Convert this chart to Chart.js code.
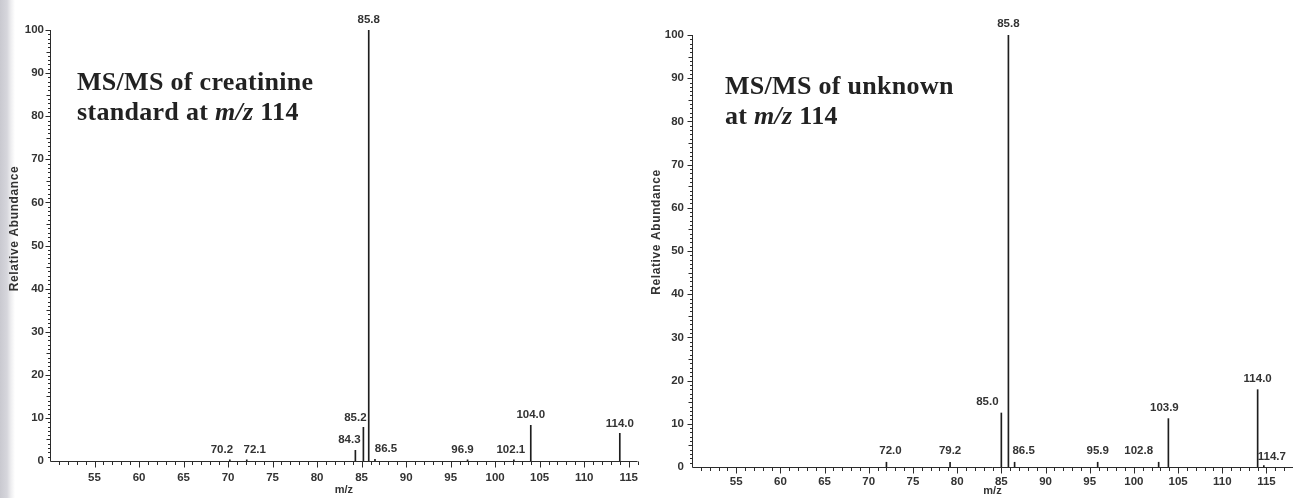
<!DOCTYPE html>
<html>
<head>
<meta charset="utf-8">
<script src="https://cdn.jsdelivr.net/npm/chart.js@4.4.1/dist/chart.umd.min.js"></script>
<style>
  html, body { margin: 0; padding: 0; background: #fff; }
  body { width: 1293px; height: 498px; position: relative; overflow: hidden; }
  canvas { position: absolute; top: 0; }
  #specLeft { left: 0; }
  #specRight { left: 648px; }
  .edge { position: absolute; left: 0; top: 0; width: 16px; height: 498px;
          background: linear-gradient(to right, #c9c9d0 0px, #d6d6dc 7px, #eeeef0 11px, #ffffff 15px); }
  .note { position: absolute; font-family: "Liberation Serif", "Times New Roman", serif;
          font-weight: bold; font-size: 26px; line-height: 30px; letter-spacing: 0.3px; color: #222; white-space: nowrap; }
  .note i { font-style: italic; }
  #noteLeft { left: 77px; top: 67px; }
  #noteRight { left: 725px; top: 71px; }
</style>
</head>
<body>
<div class="edge"></div>
<canvas id="specLeft" width="648" height="498"></canvas>
<canvas id="specRight" width="645" height="498"></canvas>
<div class="note" id="noteLeft">MS/MS of creatinine<br>standard at <i>m/z</i> 114</div>
<div class="note" id="noteRight">MS/MS of unknown<br>at <i>m/z</i> 114</div>

<script>
// Tick labels shared by both spectra
const mzTicks = [55, 60, 65, 70, 75, 80, 85, 90, 95, 100, 105, 110, 115];
const abundanceTicks = [0, 10, 20, 30, 40, 50, 60, 70, 80, 90, 100];

// Creatinine standard, product ions of m/z 114
const standardMz = [70.2, 72.1, 84.3, 85.2, 85.8, 86.5, 96.9, 102.1, 104.0, 114.0];
const standardAbundance = [0.3, 0.3, 2.5, 7.8, 100, 0.4, 0.3, 0.3, 8.3, 6.4];

// Unknown compound, product ions of m/z 114
const unknownMz = [72.0, 79.2, 85.0, 85.8, 86.5, 95.9, 102.8, 103.9, 114.0, 114.7];
const unknownAbundance = [1.1, 1.1, 12.5, 100, 1.1, 1.1, 1.1, 11.2, 17.9, 0.3];

const INK = '#2b2b2b';
const TEXT = '#333333';
const SANS = '"Liberation Sans", Arial, sans-serif';

// Minor/major tick marks and the two axis lines
const axisTicks = {
  id: 'axisTicks',
  afterDraw(chart) {
    const { ctx, chartArea: a, scales: { x, y } } = chart;
    ctx.save();
    ctx.strokeStyle = INK;
    ctx.lineWidth = 1;
    ctx.beginPath();
    const by = Math.round(a.bottom) + 0.5;
    const lx = Math.round(a.left) + 0.5;
    ctx.moveTo(lx, by); ctx.lineTo(a.right, by);
    ctx.moveTo(lx, by); ctx.lineTo(lx, Math.round(a.top));
    for (let v = Math.ceil(x.min) + 1; v <= x.max; v++) {
      const px = Math.round(x.getPixelForValue(v)) + 0.5;
      const len = v % 5 === 0 ? 6 : 3.5;
      ctx.moveTo(px, by); ctx.lineTo(px, by + len);
    }
    for (let v = 1; v <= y.max; v++) {
      const py = Math.round(y.getPixelForValue(v)) + 0.5;
      const len = v % 10 === 0 ? 5 : (v % 5 === 0 ? 4 : 2.5);
      ctx.moveTo(lx, py); ctx.lineTo(lx - len, py);
    }
    ctx.stroke();
    ctx.restore();
  }
};

// Vertical axis title, drawn a little above the axis centre
const sideTitle = {
  id: 'sideTitle',
  afterDraw(chart, args, opts) {
    const { ctx, chartArea: a } = chart;
    ctx.save();
    ctx.translate(opts.x, (a.top + a.bottom) / 2 + opts.dy);
    ctx.rotate(-Math.PI / 2);
    ctx.font = 'bold 12px ' + SANS;
    ctx.letterSpacing = '0.6px';
    ctx.fillStyle = TEXT;
    ctx.textAlign = 'center';
    ctx.textBaseline = 'middle';
    ctx.fillText(opts.text, 0, 0);
    ctx.restore();
  }
};

// m/z value printed over each peak
const peakLabels = {
  id: 'peakLabels',
  afterDatasetsDraw(chart, args, opts) {
    const ctx = chart.ctx;
    const meta = chart.getDatasetMeta(0);
    const data = chart.data.datasets[0].data;
    ctx.save();
    ctx.font = 'bold 11.5px ' + SANS;
    ctx.fillStyle = TEXT;
    ctx.textAlign = 'center';
    ctx.textBaseline = 'middle';
    meta.data.forEach((bar, i) => {
      const txt = data[i].x.toFixed(1);
      const shift = opts.shift[txt] || [0, 0];
      ctx.fillText(txt, bar.x + shift[0], bar.y - opts.gap + shift[1]);
    });
    ctx.restore();
  }
};

function spectrum(id, mz, abundance, cfg) {
  const points = mz.map((m, i) => ({ x: m, y: abundance[i] }));
  return new Chart(document.getElementById(id), {
    type: 'bar',
    data: { datasets: [{ data: points, backgroundColor: '#1e1e1e', barThickness: 1, borderWidth: 0 }] },
    plugins: [axisTicks, sideTitle, peakLabels],
    options: {
      responsive: false,
      animation: false,
      devicePixelRatio: 1,
      layout: { padding: { top: cfg.top, right: cfg.right, left: 0, bottom: 0 } },
      plugins: {
        legend: { display: false },
        tooltip: { enabled: false },
        sideTitle: { text: 'Relative Abundance', x: cfg.titleX, dy: cfg.titleDy },
        peakLabels: { gap: cfg.gap, shift: cfg.shift }
      },
      scales: {
        x: {
          type: 'linear',
          min: 50, max: cfg.xMax,
          offset: false,
          grid: { display: false, drawTicks: false },
          border: { display: false },
          afterBuildTicks: s => { s.ticks = mzTicks.map(v => ({ value: v })); },
          afterFit: s => { s.height = cfg.xHeight; },
          ticks: { color: TEXT, font: { family: SANS, size: 11.5, weight: 'bold' }, padding: cfg.xPad, autoSkip: false, maxRotation: 0 },
          title: { display: true, text: 'm/z', color: TEXT, font: { family: SANS, size: 11, weight: 'bold' }, padding: { top: 0, bottom: cfg.mzPad } }
        },
        y: {
          min: 0, max: 100,
          grid: { display: false, drawTicks: false },
          border: { display: false },
          afterBuildTicks: s => { s.ticks = abundanceTicks.map(v => ({ value: v })); },
          afterFit: s => { s.width = cfg.yWidth; },
          ticks: { color: TEXT, font: { family: SANS, size: 11.5, weight: 'bold' }, padding: cfg.yPad }
        }
      }
    }
  });
}

spectrum('specLeft', standardMz, standardAbundance, {
  top: 30, right: 1, xMax: 116, xHeight: 37, yWidth: 50, xPad: 10, yPad: 6, mzPad: 1,
  titleX: 15, titleDy: -17, gap: 10,
  shift: { '70.2': [-8, 0], '72.1': [8, 0], '84.3': [-6, 0], '85.2': [-8, 0], '86.5': [11, 0], '96.9': [-5, 0], '102.1': [-3, 0] }
});

spectrum('specRight', unknownMz, unknownAbundance, {
  top: 35, right: 0, xMax: 118, xHeight: 31, yWidth: 44, xPad: 8, yPad: 8, mzPad: 0,
  titleX: 9, titleDy: -19, gap: 11,
  shift: { '72.0': [4, 0], '85.0': [-14, 0], '86.5': [9, 0], '102.8': [-20, 0], '103.9': [-4, 0], '114.7': [8, 2.5] }
});
</script>
</body>
</html>
